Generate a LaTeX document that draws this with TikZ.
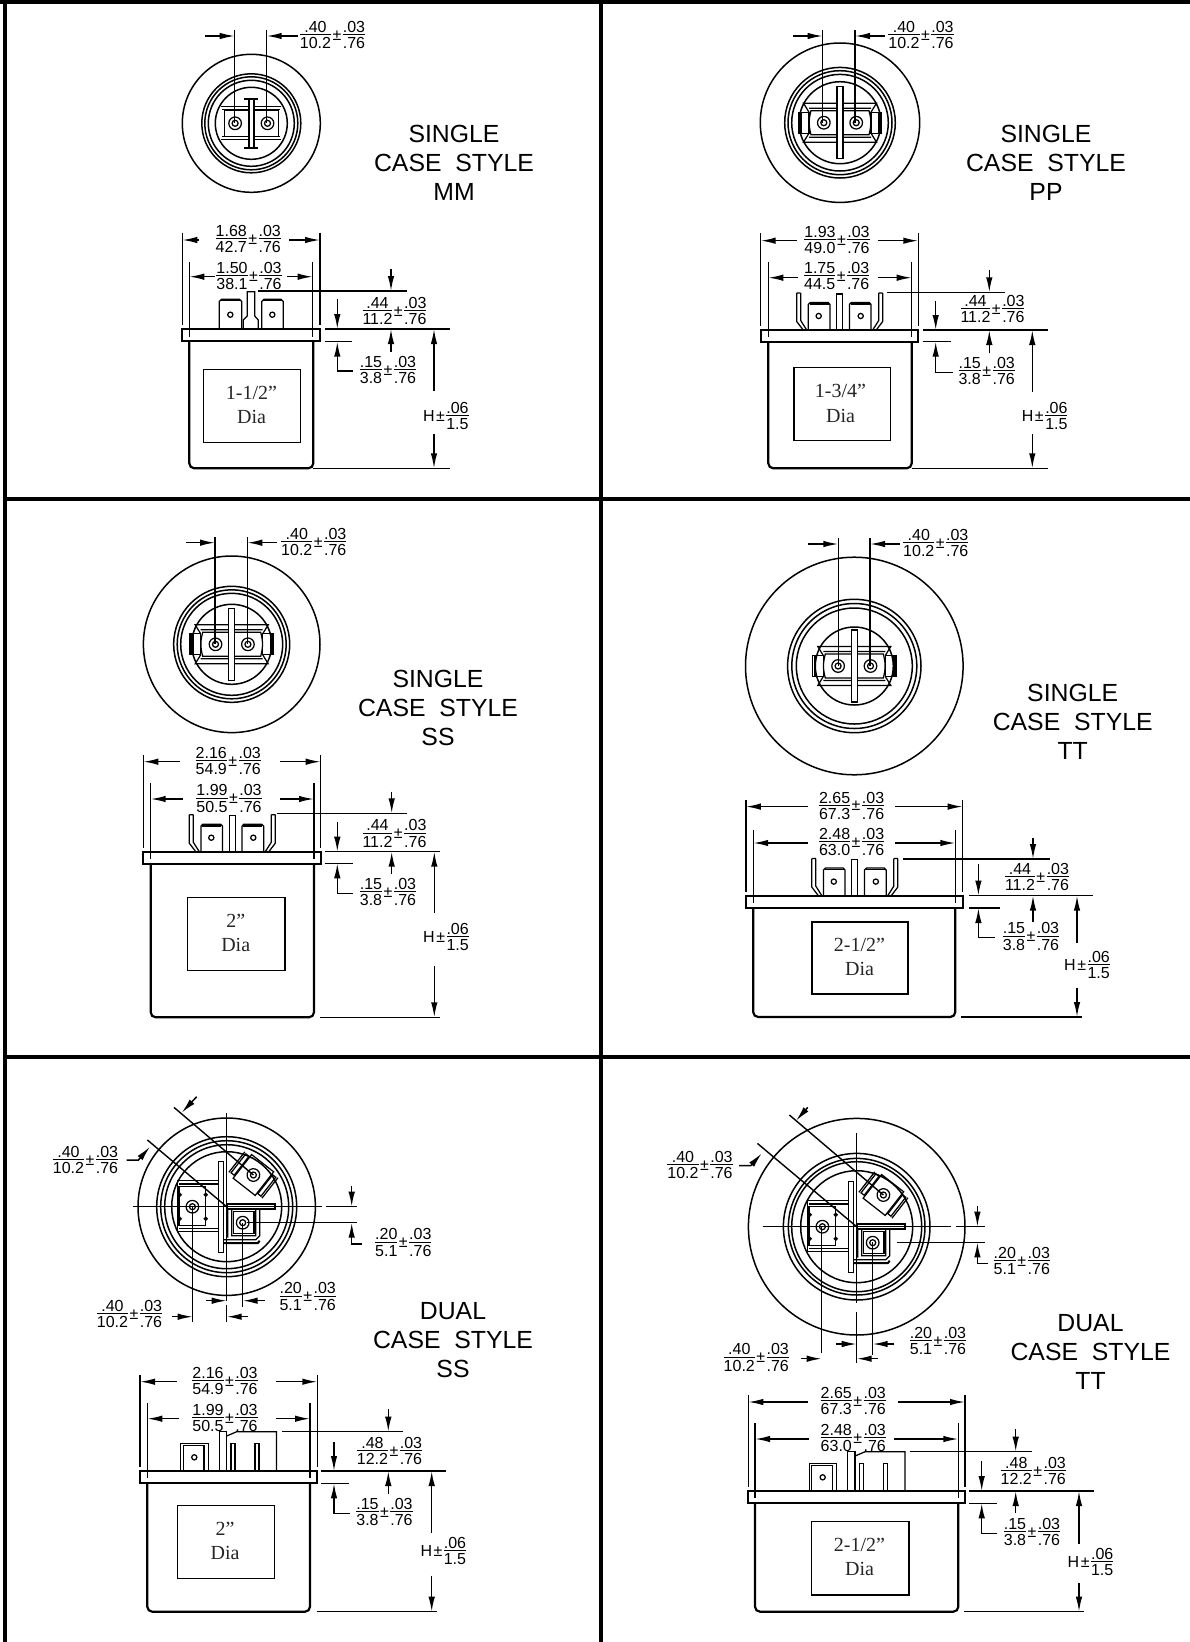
\documentclass[tikz,border=0pt]{standalone}
\usepackage{fontspec}
\setmainfont{Liberation Sans}
\newfontfamily\serifdia{Liberation Serif}
\usetikzlibrary{arrows.meta}
\setlength\arrayrulewidth{1.1pt}
\setlength\tabcolsep{0pt}
\renewcommand\arraystretch{.45}

\newcommand\fr[2]{\begin{tabular}[c]{@{}c@{}}\rule[-1.8pt]{0pt}{13pt}#1\\\hline \rule{0pt}{13.4pt}#2\end{tabular}}
\newcommand\tol[4]{\fr{#1}{#2}\hspace{1.5pt}±\hspace{1.5pt}\fr{#3}{#4}}

% width dimension: left, right, extension top, extension bottom, y, left tail, right tail
\newcommand\widthdim[7]{
  \draw[dim line] (#1,#3) -- (#1,#4) (#2,#3) -- (#2,#4);
  \draw[dim arrow] (#6,#5) -- (#1,#5);
  \draw[dim arrow] (#7,#5) -- (#2,#5);
}
% flange and can: flange left, flange right, can left, can right, flange top, can bottom
\newcommand\casebody[6]{
  \draw[case line] (#1,#5) rectangle (#2,#5+12.3);
  \draw[case line,rounded corners=5] (#3,#5+12.3) -- (#3,#6) -- (#4,#6) -- (#4,#5+12.3);
}
% top view rings: outer and the four inner circles
\newcommand\rings[5]{
  \draw[ring line] (0,0) circle [radius=#1];
  \foreach \r in {#2,#3,#4,#5} \draw[ring line] (0,0) circle [radius=\r];
}
\newcommand\hole[1]{
  \draw[part line] (#1,0) circle [radius=6.3];
  \draw[part line] (#1,0) circle [radius=3];
}
% blades and centre bar seen from above
\newcommand\bladetop{
  \draw[part line] (-3,-36) rectangle (3,36);
  \foreach \s in {-1,1}{
    \begin{scope}[xscale=\s]
      \draw[part line] (3,-12) -- (29,-12) to[bend left=15] (29,12) -- (3,12);
      \draw[part line] (31,-10.5) rectangle (41.7,10.5);
      \draw[line width=2.6pt] (39.5,-10.5) -- (39.5,10.5);
      \draw[part line] (3,-19.5) -- (36.5,-19.5) -- (31,-10.5) (3,-14.5) -- (31,-14.5);
      \draw[part line] (3,19.5) -- (36.5,19.5) -- (31,10.5) (3,14.5) -- (31,14.5);
      \hole{16.2}
    \end{scope}
  }
}
% blades, bar and prongs seen from the side, origin on the flange below the bar
\newcommand\spadeside{
  \draw[part line] (-3,0) -- (-3,-36) -- (3,-36) -- (3,0);
  \foreach \s in {-1,1}{
    \begin{scope}[xscale=\s]
      \draw[part line] (31.4,0) -- (31.4,-25.5) -- (29.5,-27.5) -- (11.5,-27.5) -- (9.7,-25.5) -- (9.7,0);
      \draw[line width=1.6pt] (30,-26) -- (11,-26);
      \draw[part line] (21,-14) circle [radius=2.6];
      \draw[part line] (43,-37) -- (43,-8.5) -- (36.5,0) (39,-37) -- (39,-9.5) -- (33,0) (39,-37) -- (43,-37);
    \end{scope}
  }
}
% dual case seen from above
\newcommand\dualtop{
  \draw[part line] (-8,-45) rectangle (-3,45.7);
  \draw[line width=2pt] (0,-2.4) rectangle (48,2.4);
  \draw[part line] (-47.7,-20) rectangle (-21,18.5);
  \draw[part line] (-7.7,-26) -- (-49,-26) -- (-49,25) -- (-7.7,25);
  \draw[part line] (-7.7,-22.7) -- (-47.7,-22.7) (-7.7,21.7) -- (-47.7,21.7);
  \foreach \a/\b in {-47/-12,-47/12,-21/-12,-21/12} \draw[part line] (\a,\b) circle [radius=1.5];
  \begin{scope}[shift={(-34.3,0)}] \hole{0} \end{scope}
  \draw[part line] (6.7,5) -- (27.3,5) -- (27.3,27) -- (6.7,27) -- cycle;
  \draw[part line] (-3,33) -- (29,33) -- (33,29) -- (33,3) (29,3) -- (29,29) -- (5,29) -- (5,3) (1,3) -- (1,31);
  \draw[line width=2pt] (-3,36.5) -- (31,36.5) -- (33,34);
  \begin{scope}[shift={(16,16)}] \hole{0} \end{scope}
  \begin{scope}[shift={(26.7,-31.7)},rotate=-38]
    \draw[part line] (-14,-15) rectangle (14,15);
    \draw[part line] (-19,-12) rectangle (-15,12) (15,-12) rectangle (19,12);
    \draw[part line] (-21,-13) -- (-21,13) (21,-13) -- (21,13);
    \hole{0}
  \end{scope}
}
% dual case seen from the side, origin on the flange at the left of the tall tab
\newcommand\dualside{
  \draw[part line] (-38.5,0) -- (-38.5,-27.7) -- (-11,-27.7) -- (-11,0);
  \draw[part line] (-36,0) -- (-36,-25.5) -- (-15.3,-25.5) -- (-15.3,0);
  \draw[part line] (-25,-13.7) circle [radius=2.6];
  \draw[part line] (0,0) -- (0,-39.3) -- (7.4,-39.3) -- (7.4,0);
  \draw[part line] (7.4,-35) -- (17.4,-39.3) -- (57.2,-39.3) -- (57.2,0);
  \draw[part line] (11.7,0) -- (11.7,-27.7) -- (15.7,-27.7) -- (15.7,0);
  \draw[part line] (35.7,0) -- (35.7,-27.7) -- (39.7,-27.7) -- (39.7,0);
}

\begin{document}
\begin{tikzpicture}[x=1pt,y=-1pt,>=stealth]
 \tikzset{
   frame line/.style={line width=4.2pt},
   case line/.style={line width=2.2pt},
   box line/.style={line width=1.5pt},
   ring line/.style={line width=1.5pt},
   part line/.style={line width=1.25pt},
   dim line/.style={line width=1.4pt},
   dim arrow/.style={line width=1.5pt,-{Latex[length=15pt,width=6.5pt]}},
   dim node/.style={font=\fontsize{16}{14}\selectfont,inner sep=0pt},
   case label/.style={font=\fontsize{24.8}{29}\selectfont,align=center,inner sep=0pt},
   dia label/.style={font=\serifdia\fontsize{20}{24.2}\selectfont,align=center,inner sep=0pt,text=black!85}
 }
 \useasboundingbox (0,0) rectangle (1190,1642);

 % frame
 \draw[frame line] (0,2) -- (1190,2);
 \draw[frame line] (5.3,0) -- (5.3,1642);
 \draw[frame line] (601,0) -- (601,1642);
 \draw[frame line] (5,498.6) -- (1190,498.6);
 \draw[frame line] (5,1057) -- (1190,1057);

 % case labels
 \node[case label] (mm) at (454,162.8) {SINGLE\\CASE\ \ STYLE\\MM};
 \node[case label] (pp) at (1046,162.8) {SINGLE\\CASE\ \ STYLE\\PP};
 \node[case label] (ss) at (438,708.4) {SINGLE\\CASE\ \ STYLE\\SS};
 \node[case label] (tt) at (1072.7,722) {SINGLE\\CASE\ \ STYLE\\TT};
 \node[case label] (dss) at (453,1339.8) {DUAL\\CASE\ \ STYLE\\SS};
 \node[case label] (dtt) at (1090.5,1351.6) {DUAL\\CASE\ \ STYLE\\TT};

 % ---- MM top
 \begin{scope}[shift={(251.3,123.3)}]
   \rings{69}{49.5}{46.5}{43}{36}
   \draw[part line] (-2.3,-25) rectangle (2.7,25);
   \draw[line width=2pt] (-7,-24.5) -- (7,-24.5) (-7,24.5) -- (7,24.5);
   \foreach \s in {-1,1}{
     \begin{scope}[xscale=\s]
       \draw[part line] (3,-13) -- (27,-13) -- (27,13) -- (3,13);
       \draw[part line] (3,-16.5) -- (30,-16.5) (3,-13.5) -- (29,-13.5);
       \draw[part line] (3,16.5) -- (30,16.5) (3,13.5) -- (29,13.5);
       \hole{16.2}
     \end{scope}
   }
 \end{scope}
 \draw[dim line] (234.7,30) -- (234.7,123.3) (266.7,30) -- (266.7,123.3);
 \draw[dim arrow] (205,36) -- (234.7,36);
 \draw[dim arrow] (298,36) -- (266.7,36);
 \node[dim node] (a1) at (332.5,36) {\tol{.40}{10.2}{.03}{.76}};

 % ---- MM side
 \casebody{182.3}{320}{189.3}{313.3}{329}{468.3}
 \draw[box line] (203.3,369.3) rectangle (300.7,442.7);
 \node[dia label] (a7) at (251.5,405) {1-1/2”\\Dia};
 \draw[part line] (219.3,329) -- (219.3,301.5) -- (221.5,299.3) -- (239.5,299.3) -- (241.7,301.5) -- (241.7,329);
 \draw[part line] (261.7,329) -- (261.7,301.5) -- (263.9,299.3) -- (281,299.3) -- (283.3,301.5) -- (283.3,329);
 \draw[line width=1.6pt] (221,300.5) -- (240,300.5) (263,300.5) -- (282,300.5);
 \draw[part line] (230.3,314.7) circle [radius=2.6] (272.3,314.7) circle [radius=2.6];
 \draw[part line] (243.3,329) -- (243.3,320) -- (247.3,316) -- (247.3,291.7) -- (254.7,291.7) -- (254.7,316) -- (258.3,320) -- (258.3,329);
 \widthdim{182.3}{320}{232.7}{325}{240}{199}{289.3}
 \widthdim{189.3}{312.7}{261.7}{336.7}{276.7}{215}{287.3}
 \node[dim node] (a2) at (248.3,240) {\tol{1.68}{42.7}{.03}{.76}};
 \node[dim node] (a3) at (249,276.7) {\tol{1.50}{38.1}{.03}{.76}};
 \draw[dim line] (258,291) -- (406.7,291);
 \draw[dim line] (325,329) -- (450,329) (325,341.7) -- (352.3,341.7) (312.7,468.3) -- (450,468.3);
 \draw[dim arrow] (391,269.3) -- (391,291);
 \draw[dim arrow] (337.3,299.3) -- (337.3,329);
 \draw[dim arrow] (353.3,371) -- (337.3,371) -- (337.3,341.7);
 \draw[dim arrow] (391,351.7) -- (391,329);
 \draw[dim arrow] (434,391) -- (434,329);
 \draw[dim arrow] (434,434) -- (434,468.3);
 \node[dim node] (a4) at (394.5,311.7) {\tol{.44}{11.2}{.03}{.76}};
 \node[dim node] (a5) at (388,371) {\tol{.15}{3.8}{.03}{.76}};
 \node[dim node] (a6) at (445.8,416.7) {H\hspace{1.5pt}±\hspace{1.5pt}\fr{.06}{1.5}};

 % ---- PP top
 \begin{scope}[shift={(840,122.7)}]
   \rings{79.7}{55.3}{52}{48.3}{41}
   \bladetop
 \end{scope}
 \draw[dim line] (822.7,30) -- (822.7,122.7) (855,30) -- (855,122.7);
 \draw[dim arrow] (793,36) -- (822.7,36);
 \draw[dim arrow] (885,36) -- (855,36);
 \node[dim node] (b1) at (921,36) {\tol{.40}{10.2}{.03}{.76}};

 % ---- PP side
 \casebody{760.7}{918.3}{768.3}{911.7}{330}{468.3}
 \draw[box line] (794,367.7) rectangle (890.7,440.7);
 \node[dia label] (b7) at (840.5,403.5) {1-3/4”\\Dia};
 \begin{scope}[shift={(839.7,330)}] \spadeside \end{scope}
 \widthdim{760.7}{918.3}{233.3}{326}{240.7}{796.7}{878.3}
 \widthdim{768.3}{911.7}{261.7}{337}{277.7}{798.3}{878.3}
 \node[dim node] (b2) at (837,240.7) {\tol{1.93}{49.0}{.03}{.76}};
 \node[dim node] (b3) at (836.7,277) {\tol{1.75}{44.5}{.03}{.76}};
 \draw[dim line] (887.3,292.3) -- (1005,292.3);
 \draw[dim line] (922.7,330) -- (1048.3,330) (922.7,341.7) -- (950.7,341.7) (911.7,468.3) -- (1048.3,468.3);
 \draw[dim arrow] (989.3,270) -- (989.3,292.3);
 \draw[dim arrow] (935.7,300.7) -- (935.7,330);
 \draw[dim arrow] (953.3,372.3) -- (935.7,372.3) -- (935.7,341.7);
 \draw[dim arrow] (989.3,353.3) -- (989.3,330);
 \draw[dim arrow] (1032.3,391.7) -- (1032.3,330);
 \draw[dim arrow] (1032.3,434) -- (1032.3,468.3);
 \node[dim node] (b4) at (992.5,310) {\tol{.44}{11.2}{.03}{.76}};
 \node[dim node] (b5) at (986.7,372) {\tol{.15}{3.8}{.03}{.76}};
 \node[dim node] (b6) at (1044.7,416.7) {H\hspace{1.5pt}±\hspace{1.5pt}\fr{.06}{1.5}};

 % ---- SS top
 \begin{scope}[shift={(231.7,644.3)}]
   \rings{88.3}{58}{54.5}{51}{40}
   \bladetop
 \end{scope}
 \draw[dim line] (215,537) -- (215,644.3) (247.3,537) -- (247.3,644.3);
 \draw[dim arrow] (186,542.7) -- (215,542.7);
 \draw[dim arrow] (276.7,542.7) -- (247.3,542.7);
 \node[dim node] (c1) at (313.8,543) {\tol{.40}{10.2}{.03}{.76}};

 % ---- SS side
 \casebody{143.3}{320.7}{150.7}{314}{851.7}{1017.3}
 \draw[box line] (187.3,897.7) rectangle (285,970.7);
 \node[dia label] (c7) at (235.7,933) {2”\\Dia};
 \begin{scope}[shift={(232.3,851.7)}] \spadeside \end{scope}
 \widthdim{143.3}{320.7}{755}{848}{761.7}{180}{280}
 \widthdim{150.7}{314}{783.3}{859}{799}{182.7}{280}
 \node[dim node] (c2) at (228.3,762) {\tol{2.16}{54.9}{.03}{.76}};
 \node[dim node] (c3) at (229,799.3) {\tol{1.99}{50.5}{.03}{.76}};
 \draw[dim line] (276.7,813.3) -- (406.7,813.3);
 \draw[dim line] (325,851.7) -- (440,851.7) (325,863.3) -- (352.7,863.3) (320,1017.3) -- (440,1017.3);
 \draw[dim arrow] (391.7,791.7) -- (391.7,813.3);
 \draw[dim arrow] (337.3,821.7) -- (337.3,851.7);
 \draw[dim arrow] (352.7,893.3) -- (337.3,893.3) -- (337.3,863.3);
 \draw[dim arrow] (391.7,874) -- (391.7,851.7);
 \draw[dim arrow] (434.3,912.7) -- (434.3,851.7);
 \draw[dim arrow] (434.3,965.7) -- (434.3,1017.3);
 \node[dim node] (c4) at (394.5,834.3) {\tol{.44}{11.2}{.03}{.76}};
 \node[dim node] (c5) at (388,893) {\tol{.15}{3.8}{.03}{.76}};
 \node[dim node] (c6) at (446,938) {H\hspace{1.5pt}±\hspace{1.5pt}\fr{.06}{1.5}};

 % ---- TT top
 \begin{scope}[shift={(854.3,666)}]
   \rings{108.8}{66.7}{62.5}{58}{39}
   \bladetop
 \end{scope}
 \draw[dim line] (838.3,538.3) -- (838.3,666) (870,538.3) -- (870,666);
 \draw[dim arrow] (808,544) -- (838.3,544);
 \draw[dim arrow] (900,544) -- (870,544);
 \node[dim node] (d1) at (935.8,544) {\tol{.40}{10.2}{.03}{.76}};

 % ---- TT side
 \casebody{745.8}{962.7}{753.2}{955.3}{895.6}{1017}
 \draw[box line] (811.8,921.8) rectangle (908.2,994);
 \node[dia label] (d7) at (859.5,957) {2-1/2”\\Dia};
 \begin{scope}[shift={(854.8,895.6)}] \spadeside \end{scope}
 \widthdim{745.8}{962.7}{800.3}{892}{806.6}{808}{895}
 \widthdim{753.2}{955.3}{829.6}{903}{843}{808}{895}
 \node[dim node] (d2) at (851.6,806.6) {\tol{2.65}{67.3}{.03}{.76}};
 \node[dim node] (d3) at (851.6,843) {\tol{2.48}{63.0}{.03}{.76}};
 \draw[dim line] (903,859) -- (1050,859);
 \draw[dim line] (969,895.6) -- (1092.6,895.6) (969,908) -- (1000,908) (960.6,1017) -- (1082,1017);
 \draw[dim arrow] (1033,838) -- (1033,859);
 \draw[dim arrow] (978.4,864) -- (978.4,895.6);
 \draw[dim arrow] (995,937.5) -- (978.4,937.5) -- (978.4,908);
 \draw[dim arrow] (1033,922) -- (1033,895.6);
 \draw[dim arrow] (1077,943) -- (1077,895.6);
 \draw[dim arrow] (1077,988) -- (1077,1017);
 \node[dim node] (d4) at (1037,877.8) {\tol{.44}{11.2}{.03}{.76}};
 \node[dim node] (d5) at (1031,937.5) {\tol{.15}{3.8}{.03}{.76}};
 \node[dim node] (d6) at (1087,966) {H\hspace{1.5pt}±\hspace{1.5pt}\fr{.06}{1.5}};

 % ---- dual SS top
 \begin{scope}[shift={(226.7,1206.7)}]
   \rings{88.7}{70}{66}{62}{55}
   \dualtop
   \draw[dim line] (0,-93.3) -- (0,94) (0,98) -- (0,115) (-94,0) -- (95,0) (99.3,0) -- (130,0);
   \draw[dim line] (20,16) -- (130,16);
   \draw[dim line] (-34,0) -- (-34,115) (16,16) -- (16,100);
   \draw[dim line] (-52.7,-99.3) -- (26.7,-31.7) (-79.3,-66.7) -- (0,0);
   \draw[dim arrow] (125,-20.7) -- (125,0);
   \draw[dim arrow] (135.7,37.3) -- (125,37.3) -- (125,16);
   \draw[dim arrow] (-21,94) -- (0,94);
   \draw[dim arrow] (38.3,94) -- (16,94);
   \draw[dim arrow] (-55,110) -- (-34,110);
   \draw[dim arrow] (21.7,110) -- (0,110);
   \draw[dim arrow] (-30,-110) -- (-45,-94);
   \draw[dim arrow] (-100,-46.7) -- (-88.3,-46.7) -- (-76.7,-60);
 \end{scope}
 \node[dim node] (e1) at (85.5,1160.7) {\tol{.40}{10.2}{.03}{.76}};
 \node[dim node] (e2) at (403.3,1243.3) {\tol{.20}{5.1}{.03}{.76}};
 \node[dim node] (e3) at (307.7,1297.3) {\tol{.20}{5.1}{.03}{.76}};
 \node[dim node] (e4) at (129.5,1315) {\tol{.40}{10.2}{.03}{.76}};

 % ---- dual SS side
 \casebody{140}{317.3}{147.3}{310}{1471}{1611.7}
 \draw[box line] (177.3,1505.7) rectangle (274.3,1578.7);
 \node[dia label] (e11) at (225,1541) {2”\\Dia};
 \begin{scope}[shift={(219.3,1471)}] \dualside \end{scope}
 \widthdim{140}{317.3}{1375}{1467}{1381.7}{176.7}{276}
 \widthdim{147.3}{310}{1403.3}{1478}{1418.7}{179.3}{276}
 \node[dim node] (e5) at (225,1382) {\tol{2.16}{54.9}{.03}{.76}};
 \node[dim node] (e6) at (225,1419) {\tol{1.99}{50.5}{.03}{.76}};
 \draw[dim line] (282.3,1431.7) -- (403.3,1431.7);
 \draw[dim line] (320.7,1471) -- (446,1471) (320.7,1483.3) -- (349.3,1483.3) (316.7,1611.7) -- (437.3,1611.7);
 \draw[dim arrow] (388.3,1409.3) -- (388.3,1431.7);
 \draw[dim arrow] (334,1441.7) -- (334,1471);
 \draw[dim arrow] (350,1513.3) -- (334,1513.3) -- (334,1483.3);
 \draw[dim arrow] (388.3,1494) -- (388.3,1471);
 \draw[dim arrow] (431.7,1532.7) -- (431.7,1471);
 \draw[dim arrow] (431.7,1575.7) -- (431.7,1611.7);
 \node[dim node] (e7) at (389.5,1451.7) {\tol{.48}{12.2}{.03}{.76}};
 \node[dim node] (e8) at (384.5,1513) {\tol{.15}{3.8}{.03}{.76}};
 \node[dim node] (e9) at (443.3,1551.7) {H\hspace{1.5pt}±\hspace{1.5pt}\fr{.06}{1.5}};

 % ---- dual TT top
 \begin{scope}[shift={(856.7,1226.7)}]
   \rings{108.3}{73.3}{68.3}{65}{56}
   \dualtop
   \draw[dim line] (0,-93.3) -- (0,76.7) (0,85) -- (0,136.7) (-94,0) -- (94,0) (99.3,0) -- (128.3,0);
   \draw[dim line] (40.7,15.7) -- (128.3,15.7);
   \draw[dim line] (-35,0) -- (-35,126) (16,15.7) -- (16,128);
   \draw[dim line] (-67.3,-111.7) -- (26.7,-31.7) (-99.3,-83.3) -- (0,0);
   \draw[dim arrow] (120.7,-21) -- (120.7,0);
   \draw[dim arrow] (131.7,36.7) -- (120.7,36.7) -- (120.7,15.7);
   \draw[dim arrow] (-21,117.3) -- (0,117.3);
   \draw[dim arrow] (37.7,117.3) -- (16,117.3);
   \draw[dim arrow] (-55.7,132) -- (-35,132);
   \draw[dim arrow] (21.7,132) -- (0,132);
   \draw[dim arrow] (-49,-119.3) -- (-60.7,-106);
   \draw[dim arrow] (-117.7,-61) -- (-106,-61) -- (-95,-73.3);
 \end{scope}
 \node[dim node] (f1) at (700,1166) {\tol{.40}{10.2}{.03}{.76}};
 \node[dim node] (f2) at (1021.8,1261.7) {\tol{.20}{5.1}{.03}{.76}};
 \node[dim node] (f3) at (938,1341.7) {\tol{.20}{5.1}{.03}{.76}};
 \node[dim node] (f4) at (756.3,1358.3) {\tol{.40}{10.2}{.03}{.76}};

 % ---- dual TT side
 \casebody{748.3}{965}{755}{958.3}{1491}{1611.7}
 \draw[box line] (811.7,1521.7) rectangle (909,1595);
 \node[dia label] (f11) at (859.5,1557) {2-1/2”\\Dia};
 \begin{scope}[shift={(847.7,1491)}] \dualside \end{scope}
 \widthdim{748.3}{965}{1395}{1487}{1402}{808.3}{898.3}
 \widthdim{755}{958.3}{1423.3}{1498}{1439}{809.3}{894}
 \node[dim node] (f5) at (853.3,1402) {\tol{2.65}{67.3}{.03}{.76}};
 \node[dim node] (f6) at (853.3,1439) {\tol{2.48}{63.0}{.03}{.76}};
 \draw[dim line] (910,1451.7) -- (1031.7,1451.7);
 \draw[dim line] (969.3,1491) -- (1094,1491) (969.3,1503.3) -- (996.7,1503.3) (964,1611.7) -- (1084,1611.7);
 \draw[dim arrow] (1015.7,1429.3) -- (1015.7,1451.7);
 \draw[dim arrow] (981.7,1461) -- (981.7,1491);
 \draw[dim arrow] (997.3,1533.3) -- (981.7,1533.3) -- (981.7,1503.3);
 \draw[dim arrow] (1015.7,1513.3) -- (1015.7,1491);
 \draw[dim arrow] (1079,1544.3) -- (1079,1491);
 \draw[dim arrow] (1079,1582.7) -- (1079,1611.7);
 \node[dim node] (f7) at (1033.3,1471.7) {\tol{.48}{12.2}{.03}{.76}};
 \node[dim node] (f8) at (1032,1533) {\tol{.15}{3.8}{.03}{.76}};
 \node[dim node] (f9) at (1090.5,1562.7) {H\hspace{1.5pt}±\hspace{1.5pt}\fr{.06}{1.5}};
\end{tikzpicture}
\end{document}
